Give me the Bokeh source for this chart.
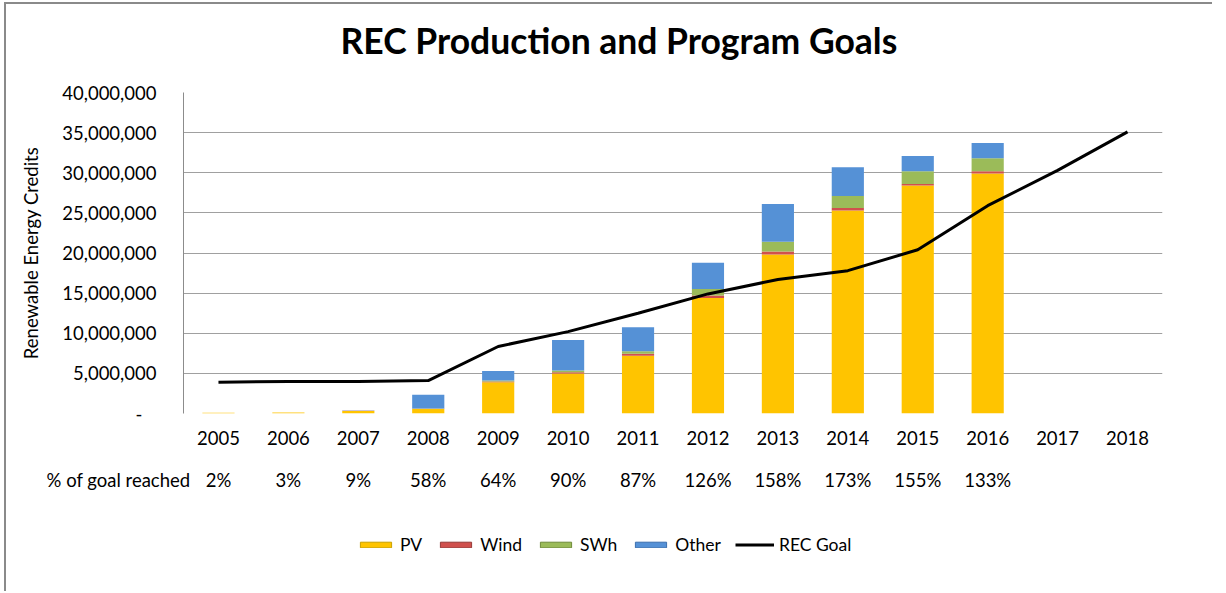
from bokeh.plotting import figure
from bokeh.layouts import column
from bokeh.models import (Range1d, FixedTicker, LinearAxis, NumeralTickFormatter,
                          Legend, LegendItem, ColumnDataSource)
from bokeh.core.properties import value
from bokeh.embed import file_html
from bokeh.resources import INLINE

# ---- data ----
years = [2005, 2006, 2007, 2008, 2009, 2010, 2011, 2012, 2013, 2014, 2015, 2016, 2017, 2018]
pv    = [80000, 120000, 300000, 550000, 3900000, 5000000, 7200000, 14400000, 19800000, 25300000, 28400000, 29900000, 0, 0]
wind  = [0, 0, 40000, 30000, 100000, 150000, 250000, 300000, 400000, 300000, 200000, 300000, 0, 0]
swh   = [0, 0, 10000, 30000, 100000, 200000, 300000, 800000, 1200000, 1500000, 1600000, 1600000, 0, 0]
other = [0, 0, 10000, 1720000, 1200000, 3800000, 3000000, 3300000, 4700000, 3600000, 1900000, 1900000, 0, 0]
goal  = [3900000, 4000000, 4000000, 4100000, 8350000, 10200000, 12500000, 14900000, 16700000, 17800000, 20400000, 25900000, 30300000, 35100000]
pct_labels = ["2%", "3%", "9%", "58%", "64%", "90%", "87%", "126%", "158%", "173%", "155%", "133%", "", ""]
series_names = ["PV", "Wind", "SWh", "Other"]
y_ticks = [0, 5000000, 10000000, 15000000, 20000000, 25000000, 30000000, 35000000, 40000000]
pct_row_title = "% of goal reached"
chart_title = "REC Production and Program Goals"

FONT = "Lato"
FS = "18.5px"
fills = ["#FFC400", "#D0504D", "#9BBB59", "#5591D6"]
lines = ["#C9A000", "#963A38", "#6F8B3A", "#3C6FAE"]

# ---- layout constants (pixels) ----
SHIFT_X, SHIFT_Y = 6, 4          # outer frame border + margin
H0 = 70                          # title strip height
LEFT, FRAME_W, RIGHT = 183 - SHIFT_X, 979, 50
TOP, FRAME_H, BOTTOM = 92 - SHIFT_Y - H0, 321, 40
TOTAL_W = LEFT + FRAME_W + RIGHT
H2 = 138
X0, X1 = 2004.5, 2018.5


def strip(h, xr, yr):
    f = figure(frame_width=TOTAL_W, frame_height=h, output_backend="svg", toolbar_location=None,
               x_range=xr, y_range=yr,
               min_border=0, min_border_left=0, min_border_right=0, min_border_top=0, min_border_bottom=0,
               x_axis_location=None, y_axis_location=None)
    f.frame_align = False
    f.outline_line_color = None
    f.grid.visible = False
    f.background_fill_color = "white"
    f.border_fill_color = "white"
    return f


# ---- title strip ----
p0 = strip(H0, Range1d(0, TOTAL_W), Range1d(0, H0))
p0.text(x=[340 - SHIFT_X], y=[H0 - 36], text=[chart_title], text_align="left", text_baseline="middle",
        text_font=value(FONT), text_font_size="35.5px", text_font_style="bold", text_color="#000000")

# ---- main chart ----
data = dict(year=years, PV=pv, Wind=wind, SWh=swh, Other=other)

p = figure(frame_width=FRAME_W, frame_height=FRAME_H, output_backend="svg", toolbar_location=None,
           x_range=Range1d(X0, X1), y_range=Range1d(0, 40000000),
           min_border_left=LEFT, min_border_right=RIGHT, min_border_top=TOP, min_border_bottom=BOTTOM,
           x_axis_location=None, y_axis_location=None)
p.frame_align = False
p.outline_line_color = None
p.background_fill_color = "white"
p.border_fill_color = "white"

# y axis
yax = LinearAxis(ticker=FixedTicker(ticks=y_ticks),
                 formatter=NumeralTickFormatter(format="0,0"),
                 major_label_overrides={0: "-   "})
yax.axis_label = "Renewable Energy Credits"
yax.axis_label_text_font = FONT
yax.axis_label_text_font_size = FS
yax.axis_label_text_font_style = "normal"
yax.axis_label_text_color = "#000000"
yax.axis_label_standoff = 17
yax.major_label_text_font = FONT
yax.major_label_text_font_size = FS
yax.major_label_text_color = "#000000"
yax.major_label_standoff = 21
yax.major_tick_line_color = None
yax.minor_tick_line_color = None
yax.axis_line_color = "#8C8C8C"
yax.axis_line_width = 1
p.add_layout(yax, "left")

# x axis (years)
xax = LinearAxis(ticker=FixedTicker(ticks=years))
xax.major_label_text_font = FONT
xax.major_label_text_font_size = FS
xax.major_label_text_color = "#000000"
xax.major_label_standoff = 11
xax.major_tick_line_color = None
xax.minor_tick_line_color = None
xax.axis_line_color = None
p.add_layout(xax, "below")

p.xgrid.grid_line_color = None
p.ygrid.ticker = FixedTicker(ticks=y_ticks)
p.ygrid.grid_line_color = "#A0A0A0"
p.ygrid.grid_line_width = 1

p.vbar_stack(series_names, x="year", width=0.46, source=data,
             fill_color=fills, line_color=None)
p.line(years, goal, line_color="#000000", line_width=3)

# ---- lower strip: % of goal row and legend ----
px_per_year = FRAME_W / (X1 - X0)
x2_start = X0 - LEFT / px_per_year
x2_end = X1 + RIGHT / px_per_year

p2 = strip(H2, Range1d(x2_start, x2_end), Range1d(0, H2))

ROW_Y = H2 - 26
pct_src = ColumnDataSource(dict(year=years, pct=pct_labels))
p2.text(x="year", y=ROW_Y, text="pct", source=pct_src, text_align="center", text_baseline="middle",
        text_font=value(FONT), text_font_size=FS, text_color="#000000")
p2.text(x=[x2_start + (190 - SHIFT_X) / px_per_year], y=[ROW_Y], text=[pct_row_title], text_align="right",
        text_baseline="middle", text_font=value(FONT), text_font_size=FS, text_color="#000000")

# legend glyph holders (no visible data)
nan = float("nan")
dummies = [p2.vbar(x=[nan], top=[nan], width=0.5, fill_color=f, line_color=l) for f, l in zip(fills, lines)]
dl = p2.line(x=[nan, nan], y=[nan, nan], line_color="#000000", line_width=3)
items = [LegendItem(label=n, renderers=[r]) for n, r in zip(series_names, dummies)]
items.append(LegendItem(label="REC Goal", renderers=[dl]))
legend = Legend(items=items, orientation="horizontal", location=(356 - SHIFT_X, 36),
                label_text_font=FONT, label_text_font_size="17.5px", label_text_color="#000000",
                glyph_width=39, glyph_height=7, label_standoff=5, spacing=14,
                border_line_color=None, background_fill_alpha=0, padding=0, margin=0)
p2.add_layout(legend)

layout = column(p0, p, p2, spacing=0,
                styles={"border-left": "2px solid #8A8A8A", "border-top": "2px solid #8A8A8A",
                        "margin-left": "4px", "margin-top": "2px"})
open("out.html", "w").write(file_html(layout, INLINE))
